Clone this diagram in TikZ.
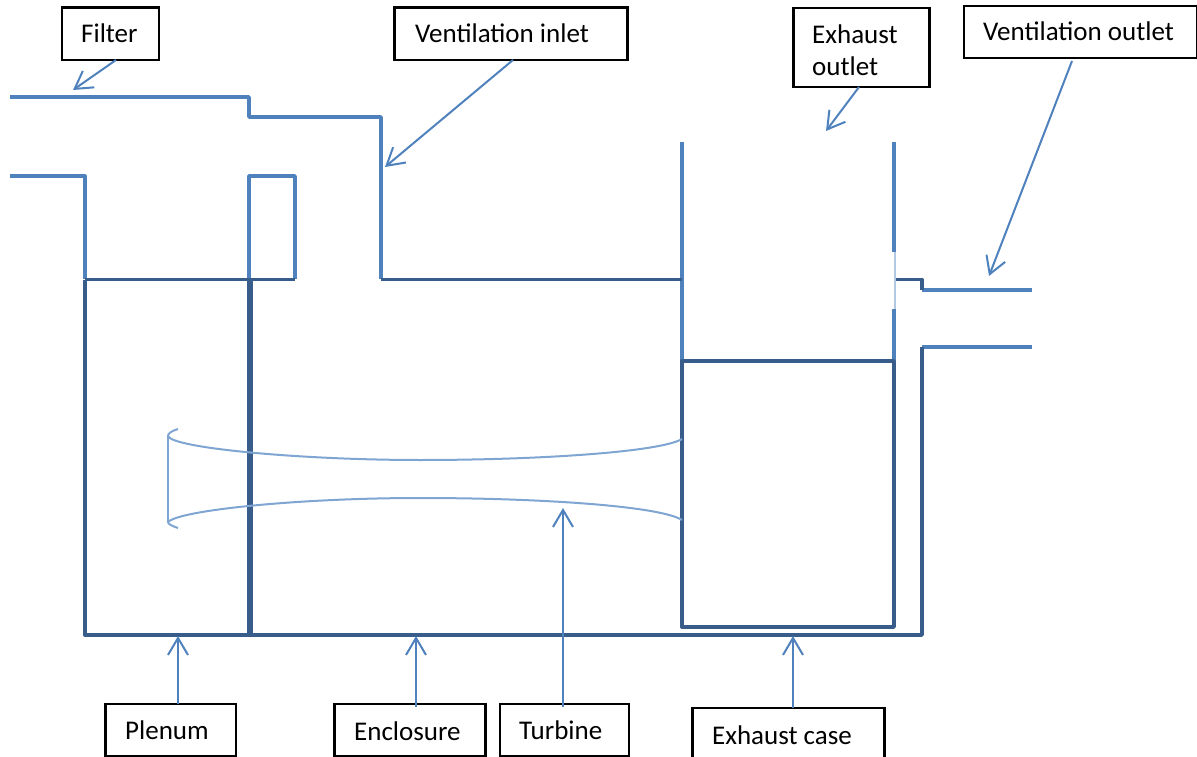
\documentclass[tikz,border=0pt]{standalone}
\usepackage{fontspec}
\setmainfont{Carlito}
\usetikzlibrary{arrows.meta}
\definecolor{lb}{HTML}{4F81BD}
\definecolor{db}{HTML}{385D8A}
\definecolor{tb}{HTML}{7FA5D2}
\tikzset{
 x=1pt,y=-1pt,
 wall/.style={draw=lb,line width=3.4pt,line join=round},
 dark/.style={draw=db,line width=3.4pt,line join=round},
 thick wall/.style={draw=db,line width=5.5pt},
 thin wall/.style={draw=tb,line width=2pt},
 lab/.style={draw=black,line width=2.2pt,fill=white,inner sep=0pt,outer sep=0pt,anchor=north west},
 txt/.style={anchor=west,inner sep=0pt,text=black,font=\fontsize{27}{33}\selectfont},
 call/.style={draw=lb,line width=2pt,-{Straight Barb[length=17pt,width=20pt,line width=2pt]}},
}
\begin{document}
\begin{tikzpicture}
\useasboundingbox (0,0) rectangle (1197,757);
% walls
\draw[wall] (10,97)--(249,97)--(249,117)--(381,117)--(381,279);
\draw[wall] (10,176)--(84.8,176)--(84.8,279);
\draw[wall] (249,279)--(249,176)--(295,176)--(295,279);
\draw[wall] (682,142)--(682,361);
\draw[wall] (894,142)--(894,252);
\draw[wall] (894,309)--(894,361);
\draw[draw=tb!60,line width=1.2pt] (895,252)--(895,309);
\draw[wall] (922,290)--(1032,290);
\draw[wall] (922,347)--(1032,347);
\draw[dark] (84.8,279.5)--(295,279.5);
\draw[dark] (381,279.5)--(682,279.5);
\draw[dark] (896,279.5)--(922,279.5)--(922,290);
\draw[dark] (84.8,279.5)--(84.8,635)--(922,635)--(922,347);
\draw[thick wall] (250,279)--(250,635);
\draw[dark] (682,361)--(894,361)--(894,627)--(682,627)--cycle;
% turbine
\draw[thin wall] (178,429) .. controls (172,431) and (168,433) .. (168,436)
  .. controls (172,448) and (300,460) .. (420,460)
  .. controls (540,460) and (660,452) .. (682,439);
\draw[thin wall] (178,528) .. controls (172,526) and (168,524) .. (168,522)
  .. controls (180,510) and (300,498) .. (420,498)
  .. controls (540,498) and (660,506) .. (682,520);
\draw[thin wall] (168,436)--(168,522);
% labels
\node[lab,minimum width=97pt,minimum height=52.5pt] (filter) at (62,7.5) {};
\node[txt] (filtert) at (81,33.5) {Filter};
\node[lab,minimum width=233pt,minimum height=52.5pt] (vin) at (394.5,7.5) {};
\node[txt] (vint) at (415,33.5) {Ventilation inlet};
\node[lab,minimum width=136pt,minimum height=79pt] (eout) at (793.5,8) {};
\node[txt,anchor=north west,align=left,font=\fontsize{27}{32}\selectfont] (eoutt) at (812,25) {Exhaust\\outlet};
\node[lab,minimum width=233pt,minimum height=52pt] (vout) at (964,6) {};
\node[txt] (voutt) at (983,31.5) {Ventilation outlet};
\node[lab,minimum width=130.5pt,minimum height=52pt] (plenum) at (105.5,704) {};
\node[txt] (plenumt) at (125,730) {Plenum};
\node[lab,minimum width=151pt,minimum height=52pt] (encl) at (334.5,704) {};
\node[txt] (enclt) at (354,731) {Enclosure};
\node[lab,minimum width=129pt,minimum height=52pt] (turb) at (500,704) {};
\node[txt] (turbt) at (519,730) {Turbine};
\node[lab,minimum width=192pt,minimum height=60pt] (exc) at (692.5,708) {};
\node[txt] (exct) at (712,735) {Exhaust case};
% callouts
\draw[call] (116,0 |- filter.south)--(73,90);
\draw[call] (513,0 |- vin.south)--(385,167);
\draw[call] (859,0 |- eout.south)--(826,131);
\draw[call] (1072,61)--(989,276);
\draw[call] (178,0 |- plenum.north)--(178,636);
\draw[call] (416,707)--(416,636);
\draw[call] (563,707)--(563,508);
\draw[call] (793,0 |- exc.north)--(793,636);
\end{tikzpicture}
\end{document}
